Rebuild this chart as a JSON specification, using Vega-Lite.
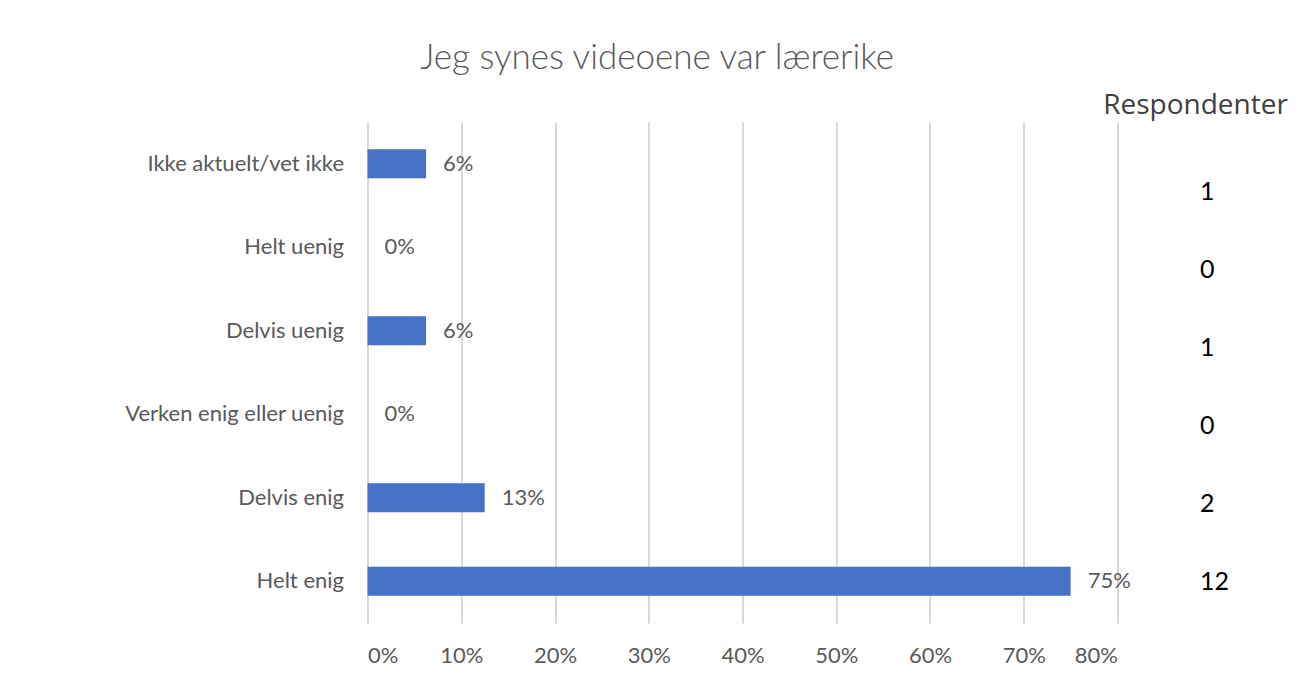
{
  "$schema": "https://vega.github.io/schema/vega-lite/v6.json",
  "width": 750,
  "height": 501,
  "autosize": {"type": "none"},
  "padding": {"left": 367.5, "top": 122, "right": 186.5, "bottom": 63},
  "background": "white",
  "title": {
    "text": "Jeg synes videoene var lærerike",
    "anchor": "middle",
    "frame": "group",
    "dx": -85.5,
    "offset": 15,
    "font": "Lato",
    "fontWeight": 300,
    "fontSize": 35,
    "color": "#595959"
  },
  "config": {
    "view": {"stroke": null},
    "font": "Lato"
  },
  "data": {
    "values": [
      {"Svar": "Ikke aktuelt/vet ikke", "Andel": 0.0625, "Antall": 1},
      {"Svar": "Helt uenig", "Andel": 0, "Antall": 0},
      {"Svar": "Delvis uenig", "Andel": 0.0625, "Antall": 1},
      {"Svar": "Verken enig eller uenig", "Andel": 0, "Antall": 0},
      {"Svar": "Delvis enig", "Andel": 0.125, "Antall": 2},
      {"Svar": "Helt enig", "Andel": 0.75, "Antall": 12}
    ]
  },
  "layer": [
    {
      "encoding": {
        "y": {
          "field": "Svar",
          "type": "nominal",
          "sort": null,
          "scale": {"paddingInner": 0.65, "paddingOuter": 0.325},
          "axis": {
            "title": null,
            "domain": false,
            "ticks": false,
            "labelPadding": 24,
            "labelFont": "Lato",
            "labelFontSize": 22,
            "labelColor": "#595959",
            "labelLimit": 400
          }
        },
        "x": {
          "field": "Andel",
          "type": "quantitative",
          "scale": {"domain": [0, 0.8], "nice": false},
          "axis": {
            "title": null,
            "format": ".0%",
            "values": [0, 0.1, 0.2, 0.3, 0.4, 0.5, 0.6, 0.7, 0.8],
            "domain": false,
            "ticks": false,
            "grid": true,
            "gridColor": "#d9d9d9",
            "gridWidth": 2,
            "labelPadding": 22,
            "labelFont": "Lato",
            "labelFontSize": 22,
            "labelColor": "#595959"
          }
        }
      },
      "layer": [
        {"mark": {"type": "bar", "color": "#4472c4"}},
        {
          "mark": {"type": "text", "align": "left", "baseline": "middle", "dx": 17, "font": "Lato", "fontSize": 22, "color": "#595959"},
          "encoding": {
            "text": {"field": "Andel", "type": "quantitative", "format": ".0%"}
          }
        }
      ]
    },
    {
      "mark": {"type": "text", "align": "left", "baseline": "middle", "font": "Lato", "fontSize": 25, "color": "#000000"},
      "encoding": {
        "y": {
          "field": "Svar",
          "type": "nominal",
          "sort": null,
          "scale": {"type": "point", "padding": 0.7115, "align": 0.63},
          "axis": {
            "orient": "right",
            "labels": false,
            "ticks": false,
            "domain": false,
            "grid": false,
            "title": "Respondenter",
            "titleAngle": 0,
            "titleAlign": "center",
            "titleBaseline": "middle",
            "titleX": 77.5,
            "titleY": -17,
            "titleFont": "Open Sans",
            "titleFontWeight": "normal",
            "titleFontSize": 28,
            "titleColor": "#404040"
          }
        },
        "x": {"datum": 0.888, "type": "quantitative"},
        "text": {"field": "Antall", "type": "quantitative"}
      }
    }
  ],
  "resolve": {"scale": {"y": "independent"}, "axis": {"y": "independent"}}
}
